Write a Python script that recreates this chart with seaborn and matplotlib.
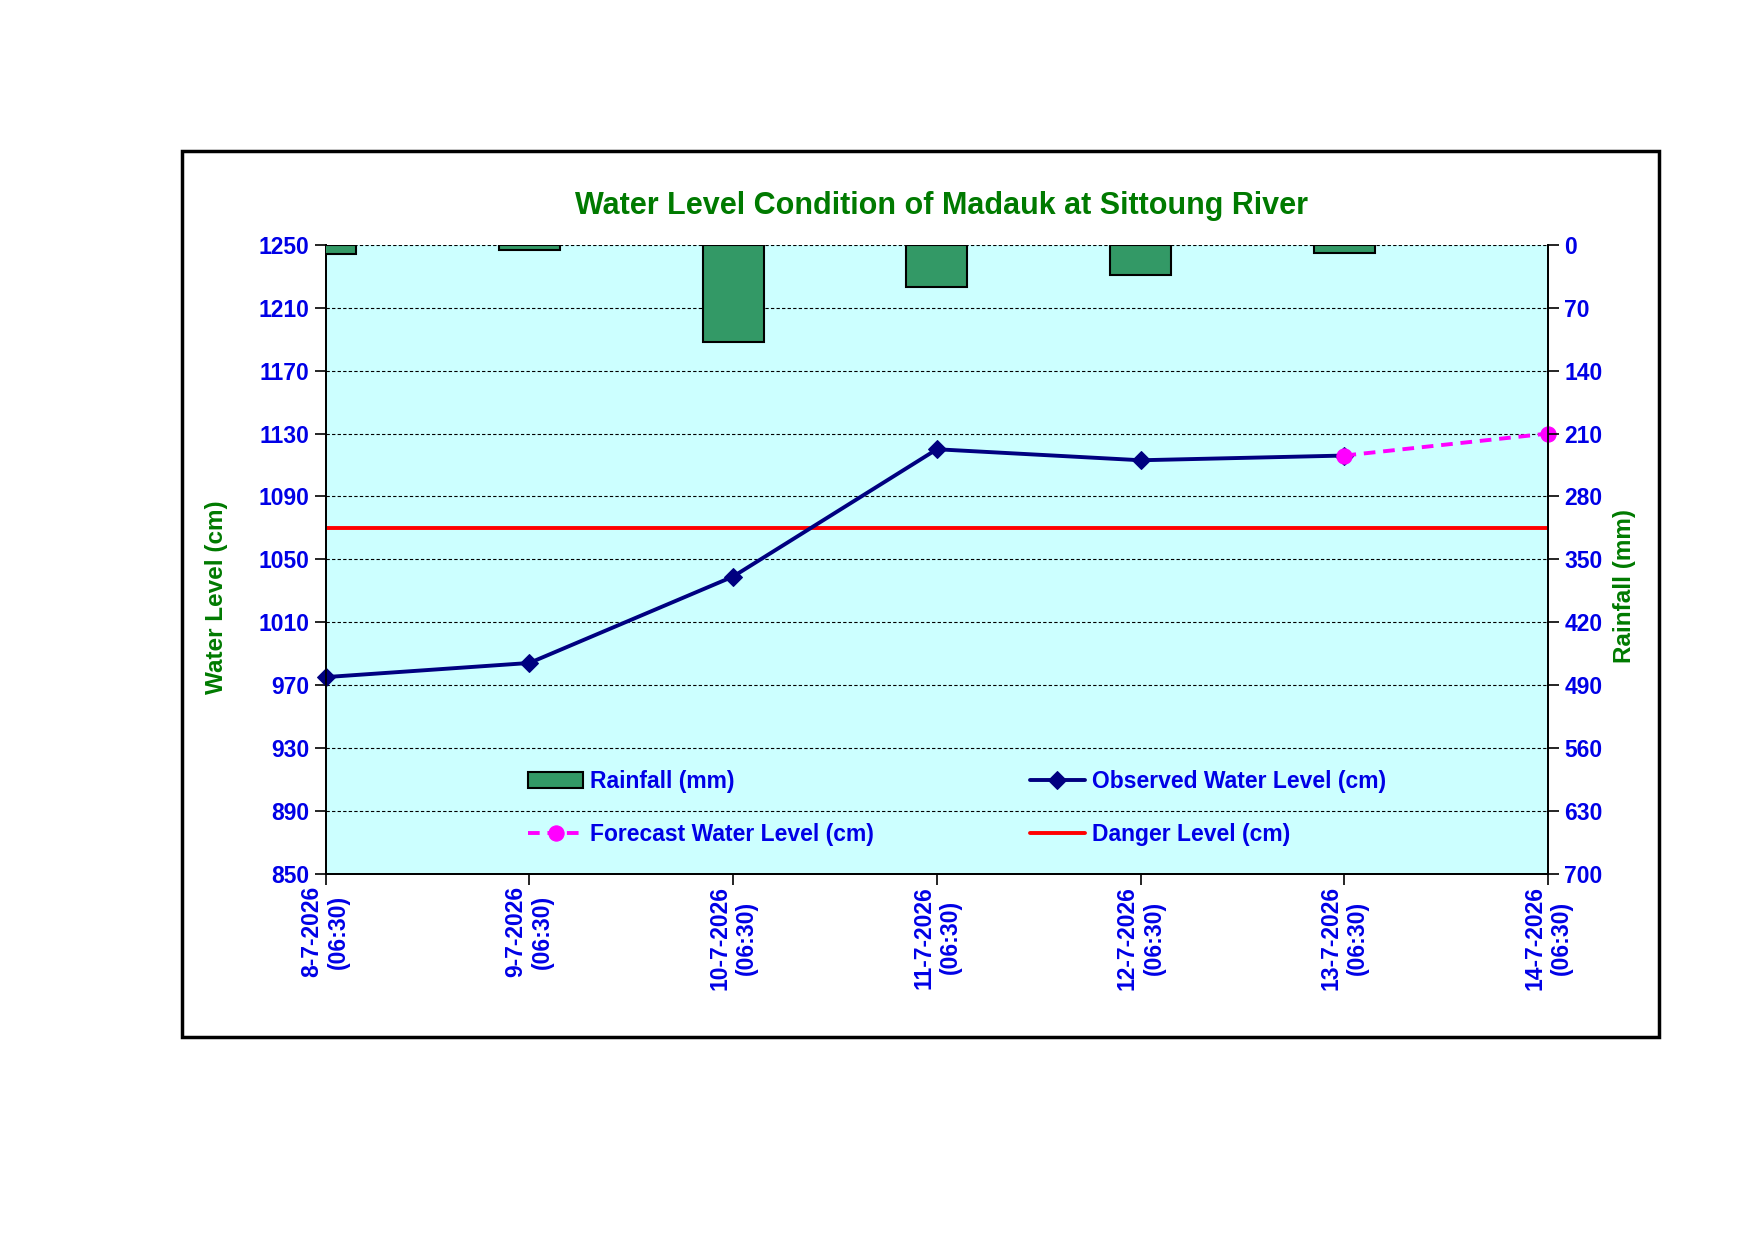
import matplotlib
matplotlib.use("Agg")
import matplotlib.pyplot as plt
import matplotlib.patches as mpatches
import numpy as np
import pandas as pd
import seaborn as sns

# data
dates = ["8-7-2026", "9-7-2026", "10-7-2026", "11-7-2026",
         "12-7-2026", "13-7-2026", "14-7-2026"]
obs_time = "(06:30)"
rainfall = [10, 6, 108, 47, 33, 9, np.nan]
observed = [975, 984, 1039, 1120, 1113, 1116]
forecast_dates = ["13-7-2026", "14-7-2026"]
forecast = [1116, 1130]
danger_level = 1070

wl_ticks = list(range(850, 1251, 40))
rain_ticks = list(range(0, 701, 70))

blue = "#0000E6"
green = "#007A00"

sns.set_style("ticks")
plt.rcParams["font.family"] = ["Liberation Sans", "DejaVu Sans"]
plt.rcParams["font.weight"] = "bold"


def main():
  pos = {d: i for i, d in enumerate(dates)}
  obs_df = pd.DataFrame({"x": [pos[d] for d in dates[:len(observed)]],
                         "level": observed})
  fc_df = pd.DataFrame({"x": [pos[d] for d in forecast_dates],
                        "level": forecast})
  dng_df = pd.DataFrame({"x": [pos[d] for d in dates],
                         "level": [danger_level] * len(dates)})
  rain_df = pd.DataFrame({"date": dates, "rain": rainfall})

  fig = plt.figure(figsize=(17.54, 12.41), dpi=100)
  fig.patch.set_facecolor("white")
  ax = fig.add_axes([0.1856, 0.2961, 0.6971, 0.5065])
  ax.set_facecolor("#CCFFFF")
  ax2 = ax.twinx()

  # rainfall bars hanging from the top (inverted right axis)
  sns.barplot(data=rain_df, x="date", y="rain", ax=ax2, color="#339966",
              saturation=1, width=0.3, edgecolor="black", linewidth=1.5,
              label="Rainfall (mm)", zorder=3)
  for b in ax2.patches:
    b.set_facecolor("#339966")

  sns.lineplot(data=dng_df, x="x", y="level", ax=ax, color="#FF0000",
               linewidth=2.8, label="Danger Level (cm)", zorder=3)
  sns.lineplot(data=obs_df, x="x", y="level", ax=ax, color="#000080",
               linewidth=2.8, marker="D", markersize=9, markeredgecolor="#000080",
               label="Observed Water Level (cm)", zorder=4, clip_on=False)
  sns.lineplot(data=fc_df, x="x", y="level", ax=ax, color="#FF00FF",
               linewidth=2.8, linestyle=(0, (3, 2)), marker="o", markersize=11,
               markeredgecolor="#FF00FF", label="Forecast Water Level (cm)",
               zorder=5, clip_on=False)

  for a in (ax, ax2):
    if a.get_legend() is not None:
      a.get_legend().remove()

  ax.set_ylim(850, 1250)
  ax.set_yticks(wl_ticks)
  ax2.set_ylim(700, 0)
  ax2.set_yticks(rain_ticks)
  ax.set_xlim(0, len(dates) - 1)
  ax.set_xticks(range(len(dates)))
  ax.set_xticklabels([f"{d}\n{obs_time}" for d in dates], rotation=90,
                     ha="center", va="top", multialignment="center")

  ax.grid(axis="y", color="black", linestyle=(0, (3, 2)), linewidth=0.8)
  ax.grid(axis="x", visible=False)
  ax2.grid(False)
  ax.set_axisbelow(True)

  for a in (ax, ax2):
    a.spines["top"].set_visible(False)
    for s in ("left", "right", "bottom"):
      a.spines[s].set_color("black")
      a.spines[s].set_linewidth(1.3)
  ax.tick_params(axis="both", colors="black", labelcolor=blue, labelsize=16.5,
                 length=8, width=1.2, direction="out")
  ax.tick_params(axis="x", pad=1)
  ax2.tick_params(axis="y", colors="black", labelcolor=blue, labelsize=16.5,
                  length=8, width=1.2, direction="out")
  ax.tick_params(axis="x", which="both", top=False)
  ax2.tick_params(axis="x", which="both", bottom=False, top=False,
                  labelbottom=False)
  for lbl in ax.get_xticklabels() + ax.get_yticklabels() + ax2.get_yticklabels():
    lbl.set_fontweight("bold")

  ax.set_xlabel("")
  ax.set_ylabel("Water Level (cm)", color=green, fontsize=17.5, fontweight="bold")
  ax.yaxis.set_label_coords(-0.080, 0.44)
  ax2.set_ylabel("Rainfall (mm)", color=green, fontsize=17.5, fontweight="bold",
                 rotation=90)
  ax2.yaxis.set_label_coords(1.053, 0.457)

  fig.text(0.537, 0.834, "Water Level Condition of Madauk at Sittoung River",
           ha="center", va="center", color=green, fontsize=22,
           fontweight="bold")

  # legend: two columns inside the lower part of the plot
  h1, l1 = ax.get_legend_handles_labels()
  h2, l2 = ax2.get_legend_handles_labels()
  hd = dict(zip(l1 + l2, h1 + h2))
  order = ["Rainfall (mm)", "Forecast Water Level (cm)",
           "Observed Water Level (cm)", "Danger Level (cm)"]
  leg = ax2.legend([hd[k] for k in order], order, ncol=2, loc="upper left",
                   bbox_to_anchor=(0.149, 0.197), frameon=False, fontsize=16.5,
                   handlelength=2.4, handletextpad=0.3, columnspacing=6.8,
                   labelspacing=1.3, handleheight=0.7)
  for t in leg.get_texts():
    t.set_color(blue)
    t.set_fontweight("bold")

  # outer chart frame
  fig.patches.append(mpatches.Rectangle((0.104, 0.1645), 0.8418, 0.7138,
                                        transform=fig.transFigure, fill=False,
                                        edgecolor="black", linewidth=2.5))

  fig.savefig("out.png", dpi=100)
  plt.close(fig)


if __name__ == "__main__":
  main()
